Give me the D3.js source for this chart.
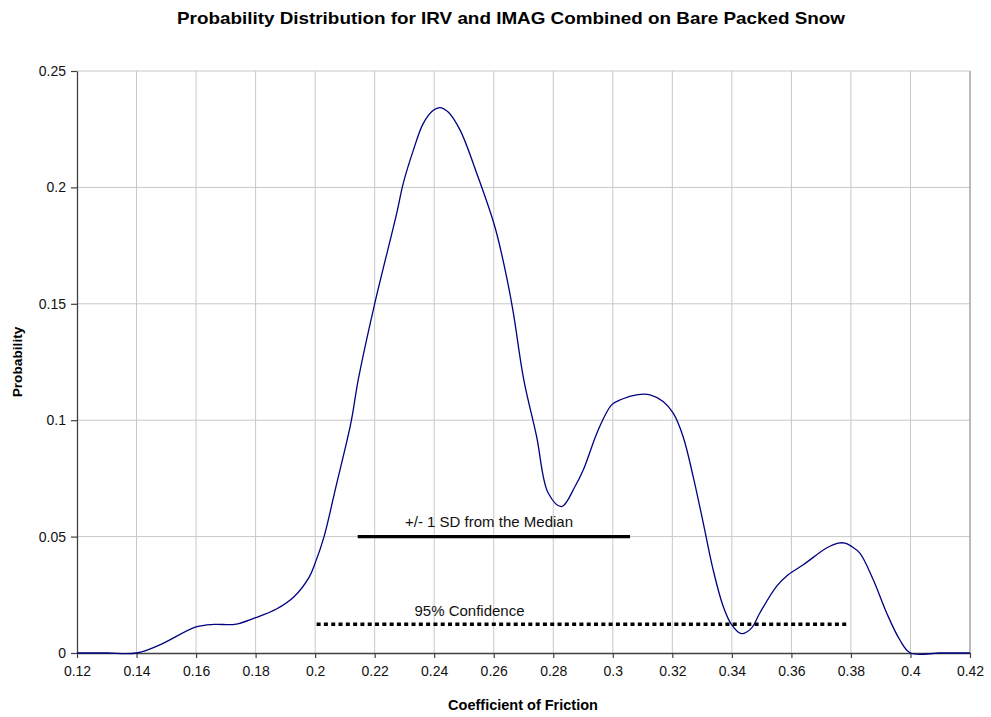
<!DOCTYPE html>
<html>
<head>
<meta charset="utf-8">
<script src="https://cdn.jsdelivr.net/npm/d3@7"></script>
<style>
  html, body { margin: 0; padding: 0; background: #fff; }
  svg { display: block; font-family: "Liberation Sans", Arial, sans-serif; }
</style>
</head>
<body>
<svg id="chart" width="991" height="717"></svg>
<script>
// Coefficient of friction (x) and probability (y) of the combined distribution
const coefficient = [0.12, 0.13, 0.14, 0.148, 0.16, 0.166, 0.173, 0.18, 0.187, 0.193, 0.198, 0.20,
  0.203, 0.207, 0.212, 0.2145, 0.22, 0.2274, 0.2296, 0.233, 0.2363, 0.2397, 0.2419, 0.2447,
  0.2487, 0.2543, 0.2604, 0.2643, 0.2666, 0.270, 0.2744, 0.2783, 0.2828, 0.2873, 0.2901,
  0.2951, 0.2996, 0.303, 0.308, 0.3125, 0.3169, 0.3203, 0.3236, 0.327, 0.3304, 0.3337,
  0.3371, 0.3399, 0.3432, 0.3466, 0.3494, 0.355, 0.3589, 0.364, 0.3718, 0.3757, 0.378,
  0.3802, 0.383, 0.3875, 0.392, 0.3964, 0.40, 0.41, 0.42];
const probability = [0, 0, 0, 0.0036, 0.0112, 0.0123, 0.0123, 0.0152, 0.0189, 0.0243, 0.0326, 0.0386,
  0.050, 0.0715, 0.0987, 0.1175, 0.150, 0.1888, 0.2017, 0.216, 0.2274, 0.2331, 0.2343, 0.2324,
  0.2246, 0.206, 0.183, 0.1617, 0.146, 0.118, 0.093, 0.0687, 0.0629, 0.0715, 0.0787,
  0.0958, 0.1066, 0.109, 0.1109, 0.1109, 0.108, 0.103, 0.093, 0.0758, 0.0558, 0.0358,
  0.020, 0.0122, 0.0083, 0.0107, 0.0172, 0.0286, 0.0336, 0.0379, 0.0451, 0.0472, 0.0472,
  0.0458, 0.0429, 0.0315, 0.0172, 0.0057, 0, 0, 0];

// Reference ranges drawn as horizontal bars
const sdRange = [0.2143, 0.3058];      // +/- 1 SD from the median
const sdLevel = 0.05;
const confRange = [0.2005, 0.3788];    // 95% confidence
const confLevel = 0.0124;

const xTicks = [0.12, 0.14, 0.16, 0.18, 0.2, 0.22, 0.24, 0.26, 0.28, 0.3, 0.32, 0.34, 0.36, 0.38, 0.4, 0.42];
const yTicks = [0, 0.05, 0.1, 0.15, 0.2, 0.25];

const titleText = "Probability Distribution for IRV and IMAG Combined on Bare Packed Snow";
const xTitle = "Coefficient of Friction";
const yTitle = "Probability";
const sdLabel = "+/- 1 SD from the Median";
const confLabel = "95% Confidence";

const svg = d3.select("#chart");
const W = 991, H = 717;
const margin = { left: 77, right: 21, top: 71, bottom: 64 };
const iw = W - margin.left - margin.right;
const ih = H - margin.top - margin.bottom;

const x = d3.scaleLinear().domain([0.12, 0.42]).range([0, iw]);
const y = d3.scaleLinear().domain([0, 0.25]).range([ih, 0]);

const g = svg.append("g").attr("transform", `translate(${margin.left},${margin.top})`);

// Gridlines
g.append("g").selectAll("line").data(xTicks.slice(1)).join("line")
  .attr("x1", d => x(d)).attr("x2", d => x(d))
  .attr("y1", 0).attr("y2", ih)
  .attr("stroke", "#c8c8c8").attr("stroke-width", 1);
g.append("g").selectAll("line").data(yTicks.slice(1)).join("line")
  .attr("x1", 0).attr("x2", iw)
  .attr("y1", d => y(d)).attr("y2", d => y(d))
  .attr("stroke", "#c8c8c8").attr("stroke-width", 1);

// Right plot border
g.append("line").attr("x1", iw).attr("x2", iw).attr("y1", 0).attr("y2", ih)
  .attr("stroke", "#a0a0a0").attr("stroke-width", 1.2);

// Axes
const xAxis = g.append("g").attr("transform", `translate(0,${ih})`)
  .call(d3.axisBottom(x).tickValues(xTicks).tickSize(5).tickSizeOuter(0).tickFormat(d3.format("")).tickPadding(8));
const yAxis = g.append("g")
  .call(d3.axisLeft(y).tickValues(yTicks).tickSize(6).tickSizeOuter(0).tickFormat(d3.format("")).tickPadding(5));
[xAxis, yAxis].forEach(a => {
  a.select(".domain").attr("stroke", "#404040").attr("stroke-width", 1.3);
  a.selectAll(".tick line").attr("stroke", "#404040").attr("stroke-width", 1.2);
  a.selectAll(".tick text").attr("fill", "#111").style("font-size", "14px")
    .style("font-family", "'Liberation Sans', Arial, sans-serif");
});

// Distribution curve
const line = d3.line()
  .x((d, i) => x(coefficient[i]))
  .y(d => y(d))
  .curve(d3.curveCatmullRom.alpha(0.5));
g.append("path").datum(probability)
  .attr("d", line)
  .attr("fill", "none")
  .attr("stroke", "#000080")
  .attr("stroke-width", 1.3);

// +/- 1 SD bar
g.append("line")
  .attr("x1", x(sdRange[0])).attr("x2", x(sdRange[1]))
  .attr("y1", y(sdLevel)).attr("y2", y(sdLevel))
  .attr("stroke", "#000").attr("stroke-width", 3.3);
g.append("text")
  .attr("x", 489 - margin.left)
  .attr("y", y(sdLevel) - 10)
  .attr("text-anchor", "middle")
  .style("font-size", "15px").attr("fill", "#111")
  .text(sdLabel);

// 95% confidence bar
g.append("line")
  .attr("x1", x(confRange[0])).attr("x2", x(confRange[1]))
  .attr("y1", y(confLevel)).attr("y2", y(confLevel))
  .attr("stroke", "#000").attr("stroke-width", 3.5)
  .attr("stroke-dasharray", "4 3.3");
g.append("text")
  .attr("x", 469.5 - margin.left)
  .attr("y", y(confLevel) - 8.5)
  .attr("text-anchor", "middle")
  .style("font-size", "15px").attr("fill", "#111")
  .text(confLabel);

// Titles
svg.append("text")
  .attr("x", 511).attr("y", 24)
  .attr("text-anchor", "middle")
  .attr("textLength", 668).attr("lengthAdjust", "spacingAndGlyphs")
  .style("font-size", "16.5px").style("font-weight", "bold").attr("fill", "#000")
  .text(titleText);
svg.append("text")
  .attr("x", 523).attr("y", 710)
  .attr("text-anchor", "middle")
  .style("font-size", "14.5px").style("font-weight", "bold").attr("fill", "#000")
  .text(xTitle);
svg.append("text")
  .attr("transform", `translate(22,${362}) rotate(-90)`)
  .attr("text-anchor", "middle")
  .style("font-size", "13.7px").style("font-weight", "bold").attr("fill", "#000")
  .text(yTitle);
</script>
</body>
</html>
